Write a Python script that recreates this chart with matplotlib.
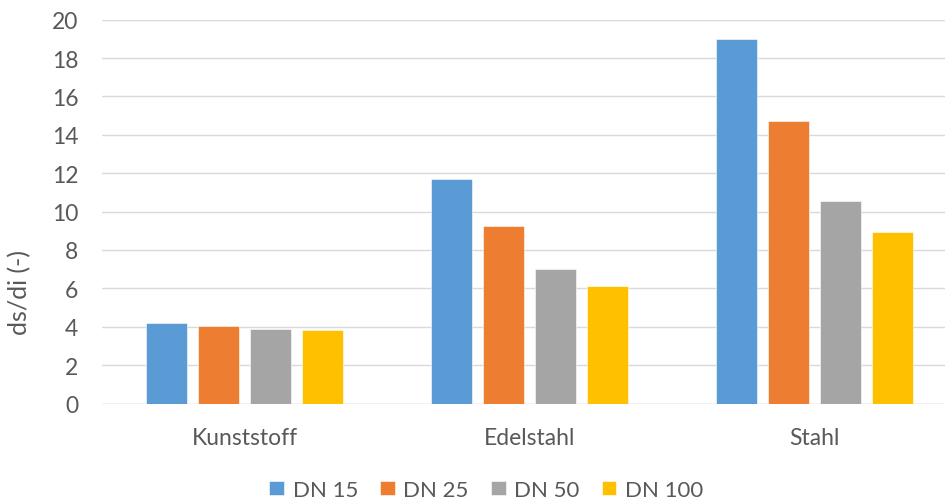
import matplotlib

matplotlib.use("Agg")
import matplotlib.pyplot as plt
import numpy as np

categories = ["Kunststoff", "Edelstahl", "Stahl"]
series_names = ["DN 15", "DN 25", "DN 50", "DN 100"]
dn15 = [4.21, 11.70, 19.01]
dn25 = [4.05, 9.25, 14.71]
dn50 = [3.87, 6.99, 10.57]
dn100 = [3.83, 6.11, 8.94]
colors = ["#5B9BD5", "#ED7D31", "#A5A5A5", "#FFC000"]
y_ticks = list(range(0, 21, 2))

plt.rcParams["font.family"] = ["Lato", "DejaVu Sans"]
text_color = "#595959"

fig = plt.figure(figsize=(9.5, 5.02), dpi=100)
ax = fig.add_axes([102 / 950, 1 - 404.5 / 502, (945 - 102) / 950, (404.5 - 20.7) / 502])

x = np.arange(len(categories))
step = 52 / 285
width = 40.5 / 285
for i, (name, vals) in enumerate(zip(series_names, [dn15, dn25, dn50, dn100])):
    ax.bar(x + (i - 1.5) * step, vals, width=width, color=colors[i], label=name,
           edgecolor="white", linewidth=0.4, zorder=3)

ax.set_xlim(-0.5, -0.5 + (945 - 102) / 285)
ax.set_ylim(0, 20)
ax.set_yticks(y_ticks)
ax.set_xticks(x)
ax.set_xticklabels(categories)
ax.yaxis.grid(True, color="#D9D9D9", linewidth=1.0, zorder=0)
for side in ["top", "right", "left", "bottom"]:
    ax.spines[side].set_visible(False)
ax.axhline(0, color="#D9D9D9", linewidth=1.0, zorder=2)
ax.tick_params(axis="y", length=0, pad=17, labelsize=16.5, labelcolor=text_color)
ax.tick_params(axis="x", length=0, pad=17, labelsize=16.5, labelcolor=text_color)
ax.set_ylabel("ds/di (-)", fontsize=18, color=text_color, va="center")
ax.yaxis.set_label_coords(-0.098, 0.293)

ax.legend(loc="center", bbox_to_anchor=(0.456, -0.225), ncol=4, frameon=False,
          fontsize=16, labelcolor=text_color, handlelength=0.65, handleheight=0.65,
          handletextpad=0.4, columnspacing=1.0)

fig.savefig("out.png", dpi=100)
